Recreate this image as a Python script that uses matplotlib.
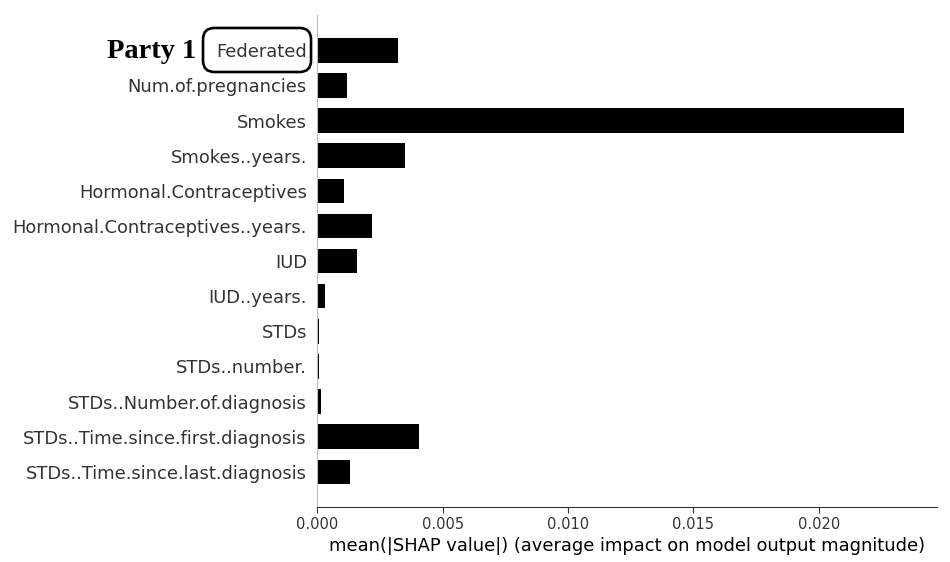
import matplotlib
matplotlib.use('Agg')
import matplotlib.pyplot as plt
from matplotlib.patches import FancyBboxPatch

features = [
    'Federated',
    'Num.of.pregnancies',
    'Smokes',
    'Smokes..years.',
    'Hormonal.Contraceptives',
    'Hormonal.Contraceptives..years.',
    'IUD',
    'IUD..years.',
    'STDs',
    'STDs..number.',
    'STDs..Number.of.diagnosis',
    'STDs..Time.since.first.diagnosis',
    'STDs..Time.since.last.diagnosis',
]
mean_shap = [0.0032, 0.00118, 0.0234, 0.00349, 0.00106, 0.00217, 0.00157,
             0.00032, 0.00006, 0.00005, 0.00016, 0.00404, 0.0013]
xticks = [0.0, 0.005, 0.010, 0.015, 0.020]

fig = plt.figure(figsize=(9.5, 5.62), dpi=100, facecolor='white')
ax = fig.add_axes([0.334, 0.098, 0.652, 0.875])

n = len(features)
ypos = list(range(n - 1, -1, -1))
ax.barh(ypos, mean_shap, height=0.7, color='black', align='center')
ax.set_yticks(ypos)
ax.set_yticklabels(features, fontsize=12.9, color='#333333')
ax.set_ylim(-1, n)
ax.set_xlim(0, 0.0247)
ax.set_xticks(xticks)
ax.set_xticklabels([f'{v:.3f}' for v in xticks], fontsize=10.5, color='#333333')
ax.set_xlabel('mean(|SHAP value|) (average impact on model output magnitude)',
              fontsize=12.9, color='black', labelpad=3)
ax.tick_params('y', length=0, pad=7.5)
ax.tick_params('x', length=4, color='#333333')
ax.spines['right'].set_visible(False)
ax.spines['top'].set_visible(False)
ax.spines['left'].set_color('#bbbbbb')
ax.spines['bottom'].set_color('#333333')

# highlight box around the first label (added annotation)
box = FancyBboxPatch((0.2137, 0.8719), 0.1137, 0.0783,
                     boxstyle='round,pad=0,rounding_size=0.012',
                     transform=fig.transFigure, fc='none', ec='black', lw=1.9,
                     mutation_aspect=950 / 562)
fig.patches.append(box)
fig.text(0.207, 0.909, 'Party 1', ha='right', va='center', fontsize=20.5,
         fontweight='bold', family='Liberation Serif')

fig.savefig('out.png', dpi=100, facecolor='white')
